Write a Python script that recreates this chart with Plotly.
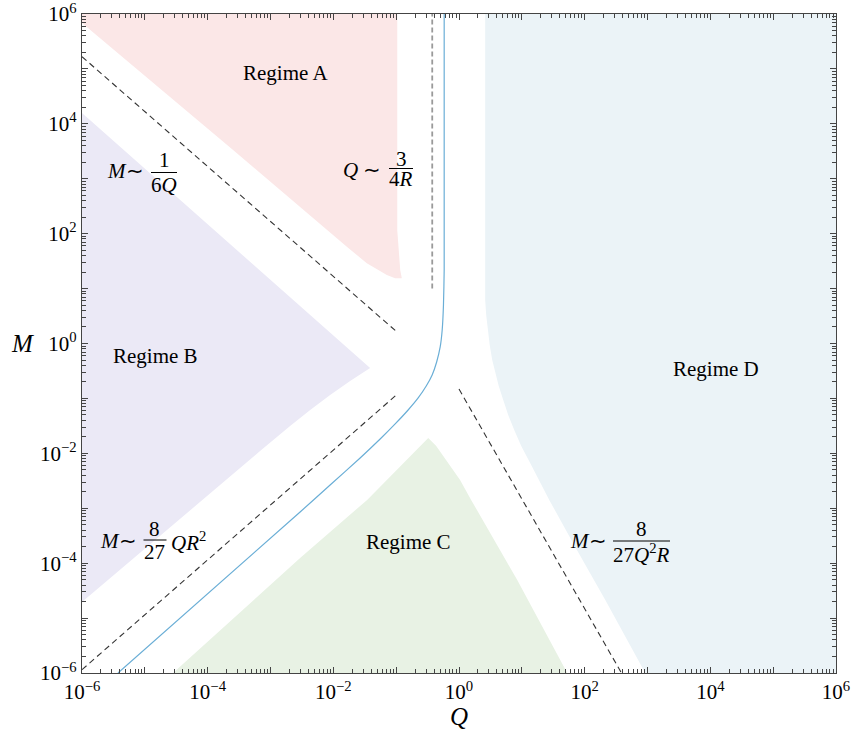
import plotly.graph_objects as go

# ---- regime outlines (Q, M) ----
regime_a_q = [1e-6, 0.104, 0.104, 0.110, 0.116, 0.123, 0.0964, 0.0711, 0.0341, 0.0164, 2.54e-4, 1e-6]
regime_a_m = [1e6, 1e6, 117, 40.9, 21.8, 15.4, 15.5, 17.7, 28.9, 57.9, 3.34e3, 6.85e5]

regime_b_q = [1e-6, 0.0385, 0.0185, 8.89e-3, 4.28e-3, 2.05e-3, 6.82e-4, 1e-6]
regime_b_m = [1.57e4, 0.358, 0.208, 0.116, 0.0615, 0.0315, 0.0110, 1.96e-5]

regime_c_q = [2.81e-5, 2.96e-3, 0.0345, 0.324, 0.434, 0.625, 1.04, 1.56, 8.45, 52.8]
regime_c_m = [1e-6, 1.24e-4, 1.42e-3, 0.0191, 0.0136, 7.57e-3, 3.27e-3, 1.42e-3, 4.94e-5, 1e-6]

regime_d_q = [2.61, 2.61, 2.71, 2.86, 3.08, 3.38, 3.77, 4.29, 5.06, 6.07, 7.57, 9.78, 14.1,
              27.3, 70.8, 213, 922, 1e6, 1e6]
regime_d_m = [1e6, 6.20, 3.31, 1.76, 0.940, 0.501, 0.290, 0.168, 0.0937, 0.0499, 0.0266, 0.0136,
              6.14e-3, 1.42e-3, 1.97e-4, 2.14e-5, 1e-6, 1e-6, 1e6]

# ---- computed boundary curve ----
curve_q = [3.74e-6, 2.96e-3, 8.89e-3, 0.0267, 0.0556, 0.0964, 0.155, 0.224, 0.301,
           0.374, 0.441, 0.502, 0.540, 0.566, 0.581, 0.581]
curve_m = [1e-6, 8.55e-4, 2.65e-3, 8.22e-3, 0.0182, 0.0343, 0.0615, 0.102, 0.168,
           0.267, 0.461, 0.865, 1.76, 5.02, 21.8, 1e6]

# ---- asymptotes ----
asym_inv_q = [1e-6, 0.103]          # M ~ 1/(6Q)
asym_inv_m = [1.67e5, 1.62]
asym_lin_q = [1e-6, 0.103]          # M ~ 8/27 Q R^2
asym_lin_m = [1.15e-6, 0.118]
asym_sq_q = [1.0, 385]              # M ~ 8/(27 Q^2 R)
asym_sq_m = [0.148, 1e-6]
asym_vert_q = [0.375, 0.375]        # Q ~ 3/(4R)
asym_vert_m = [10, 1e6]

decades = list(range(-6, 7))

FONT = "Liberation Serif, Times New Roman, serif"
AX = "#444444"

fig = go.Figure()

fills = [
    (regime_a_q, regime_a_m, "#fbe7e7"),
    (regime_b_q, regime_b_m, "#ebe9f6"),
    (regime_c_q, regime_c_m, "#e8f2e4"),
    (regime_d_q, regime_d_m, "#ebf3f7"),
]
for q, m, col in fills:
    fig.add_trace(go.Scatter(x=q, y=m, mode="lines", fill="toself", fillcolor=col,
                             line=dict(width=0, color=col), hoverinfo="skip", showlegend=False))

for q, m in [(asym_inv_q, asym_inv_m), (asym_lin_q, asym_lin_m), (asym_sq_q, asym_sq_m)]:
    fig.add_trace(go.Scatter(x=q, y=m, mode="lines", showlegend=False,
                             line=dict(color="#333333", width=1.1, dash="6px,4px")))
fig.add_trace(go.Scatter(x=asym_vert_q, y=asym_vert_m, mode="lines", showlegend=False,
                         line=dict(color="#9a9a9a", width=1.8, dash="5px,3px")))

fig.add_trace(go.Scatter(x=curve_q, y=curve_m, mode="lines", showlegend=False,
                         line=dict(color="#6aaed6", width=1.2, shape="spline", smoothing=0.5)))


def tick_label(e):
    if e % 2:
        return ""
    s = str(e).replace("-", "\u2212")
    return f"10<sup>{s}</sup>"


major_vals = [10.0 ** e for e in decades]
major_text = [tick_label(e) for e in decades]
minor_vals = [k * 10.0 ** e for e in decades[:-1] for k in range(2, 10)]

axis_common = dict(
    type="log", range=[-6, 6], showgrid=False, zeroline=False, automargin=False,
    showline=True, linecolor=AX, linewidth=1.3, mirror="allticks",
    ticks="inside", ticklen=6, tickwidth=1, tickcolor=AX,
    tickmode="array", tickvals=major_vals, ticktext=major_text,
    ticklabeloverflow="allow",
    tickfont=dict(family=FONT, size=21, color="black"),
    minor=dict(tickmode="array", tickvals=minor_vals, ticks="inside",
               ticklen=3.5, tickwidth=1, tickcolor=AX, showgrid=False),
)
fig.update_xaxes(**axis_common)
fig.update_yaxes(**axis_common)

L, R, T, B = 82, 18, 14, 61
W, H = 854, 734
PW, PH = W - L - R, H - T - B


def paper(x, y):
    return (x - L) / PW, (H - B - y) / PH


annotations = []
shapes = []


def text(x, y, s, size=21, xanchor="center", italic=False):
    px, py = paper(x, y)
    if italic:
        s = f"<i>{s}</i>"
    annotations.append(dict(x=px, y=py, xref="paper", yref="paper", text=s,
                            showarrow=False, xanchor=xanchor, yanchor="middle",
                            font=dict(family=FONT, size=size, color="black")))


def bar(x0, x1, y):
    a0, b0 = paper(x0, y)
    a1, _ = paper(x1, y)
    shapes.append(dict(type="line", xref="paper", yref="paper", x0=a0, x1=a1, y0=b0, y1=b0,
                       line=dict(color="black", width=1)))


# regime names
text(285, 73, "Regime A")
text(155, 356, "Regime B")
text(408, 542, "Regime C")
text(716, 369, "Regime D")

# axis titles
text(459, 716, "Q", size=25, italic=True)
text(22, 343, "M", size=25, italic=True)

# M ~ 1/(6Q)
text(146, 171, "<i>M</i>\u223c", xanchor="right")
text(164, 160, "1")
bar(151, 177, 172.5)
text(164, 185, "6<i>Q</i>")

# Q ~ 3/(4R)
text(383, 170, "<i>Q</i> \u223c", xanchor="right")
text(401, 159, "3")
bar(389, 413, 168.5)
text(401, 179, "4<i>R</i>")

# M ~ 8/27 Q R^2
text(139, 541, "<i>M</i>\u223c", xanchor="right")
text(154, 529, "8")
bar(143.5, 166.5, 540)
text(154.5, 552, "27")
text(169, 541, "<i>QR</i><sup>2</sup>", xanchor="left")

# M ~ 8/(27 Q^2 R)
text(609, 541, "<i>M</i>\u223c", xanchor="right")
text(641.5, 529, "8")
bar(613, 670, 541)
text(641.5, 553, "27<i>Q</i><sup>2</sup><i>R</i>")

fig.update_layout(
    width=W, height=H,
    margin=dict(l=L, r=R, t=T, b=B, autoexpand=False),
    paper_bgcolor="white", plot_bgcolor="white",
    font=dict(family=FONT, size=21, color="black"),
    annotations=annotations, shapes=shapes,
    showlegend=False,
)

fig.write_html("out.html")
